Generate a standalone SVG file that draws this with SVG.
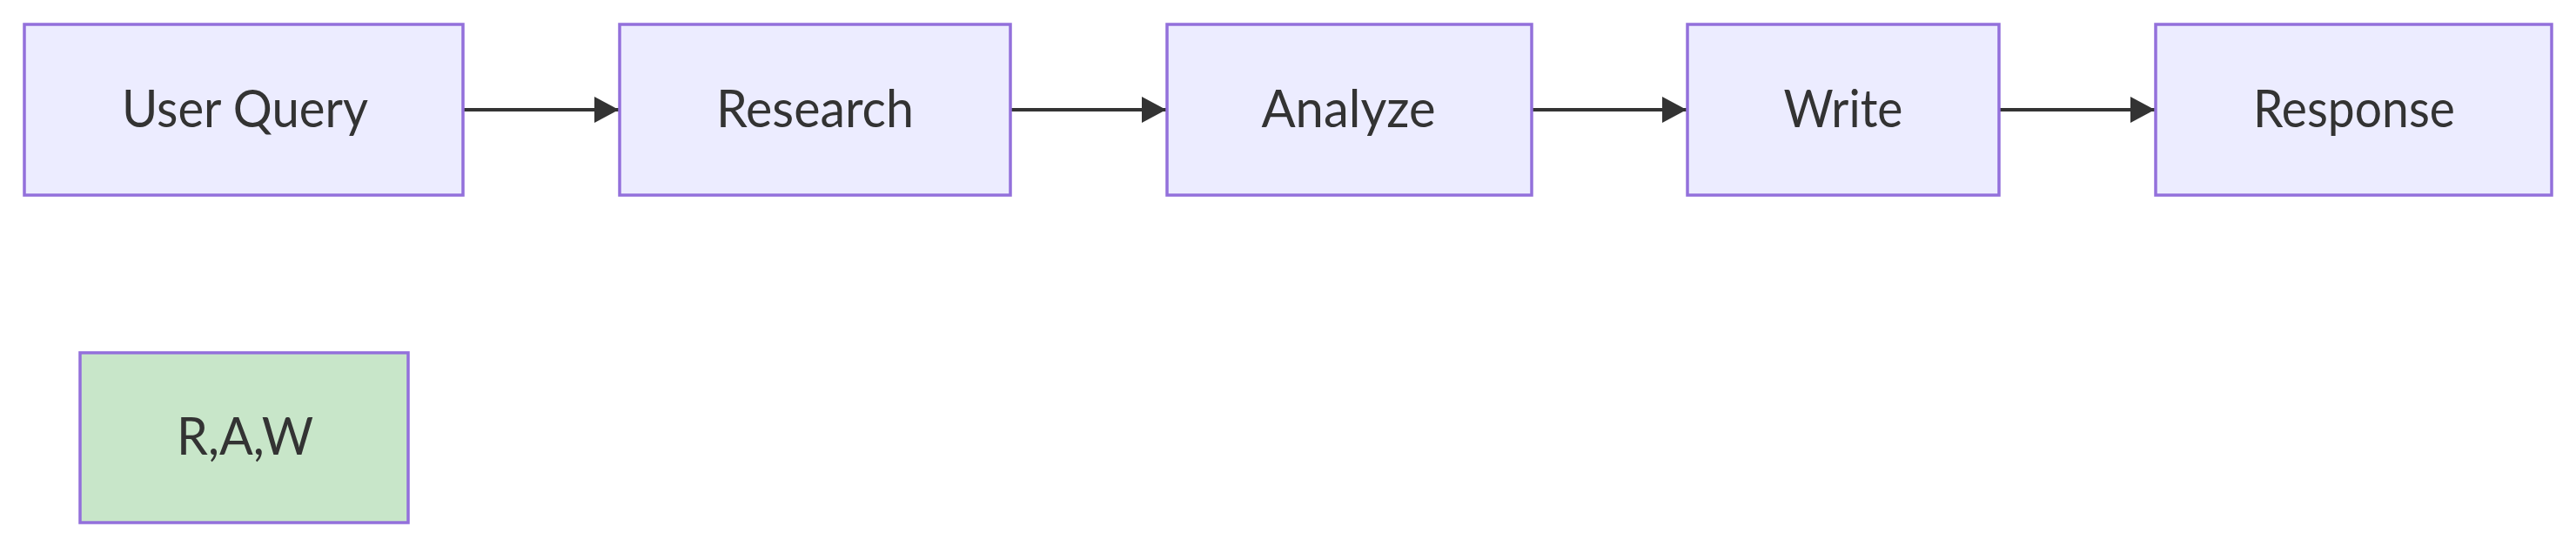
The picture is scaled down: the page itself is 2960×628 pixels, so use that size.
<svg xmlns="http://www.w3.org/2000/svg" width="2960" height="628" viewBox="0 0 2960 628">
<style>
.box{fill:#ECECFF;stroke:#9370DB;stroke-width:3.5}
.green{fill:#C8E6C9;stroke:#9370DB;stroke-width:3.5}
.lbl{font-family:Lato,"Liberation Sans",Arial,sans-serif;font-size:60px;fill:#333;text-anchor:middle}
.edge{stroke:#333;stroke-width:4;fill:none}
</style>
<defs>
<marker id="arr" markerUnits="userSpaceOnUse" markerWidth="30" markerHeight="30" refX="28" refY="15" orient="auto">
<path d="M0,0 L28,15 L0,30 Z" fill="#333"/>
</marker>
</defs>
<rect x="0" y="0" width="2960" height="628" fill="#fff"/>
<g id="connectors">
<line class="edge" x1="532" y1="126" x2="711" y2="126" marker-end="url(#arr)"/>
<line class="edge" x1="1161" y1="126" x2="1340" y2="126" marker-end="url(#arr)"/>
<line class="edge" x1="1760" y1="126" x2="1938" y2="126" marker-end="url(#arr)"/>
<line class="edge" x1="2297" y1="126" x2="2476" y2="126" marker-end="url(#arr)"/>
</g>
<g id="node-userquery">
<rect class="box" x="28" y="28" width="504" height="196"/>
<text class="lbl" x="281.5" y="146" textLength="283" lengthAdjust="spacingAndGlyphs">User Query</text>
</g>
<g id="node-research">
<rect class="box" x="712" y="28" width="449" height="196"/>
<text class="lbl" x="936.5" y="146" textLength="227" lengthAdjust="spacingAndGlyphs">Research</text>
</g>
<g id="node-analyze">
<rect class="box" x="1341" y="28" width="419" height="196"/>
<text class="lbl" x="1549.5" y="146" textLength="200" lengthAdjust="spacingAndGlyphs">Analyze</text>
</g>
<g id="node-write">
<rect class="box" x="1939" y="28" width="358" height="196"/>
<text class="lbl" x="2118" y="146" textLength="137" lengthAdjust="spacingAndGlyphs">Write</text>
</g>
<g id="node-response">
<rect class="box" x="2477" y="28" width="455" height="196"/>
<text class="lbl" x="2705" y="146" textLength="232" lengthAdjust="spacingAndGlyphs">Response</text>
</g>
<g id="node-raw">
<rect class="green" x="92" y="405" width="377" height="195"/>
<text class="lbl" x="281.5" y="522" textLength="157" lengthAdjust="spacingAndGlyphs">R,A,W</text>
</g>
</svg>
